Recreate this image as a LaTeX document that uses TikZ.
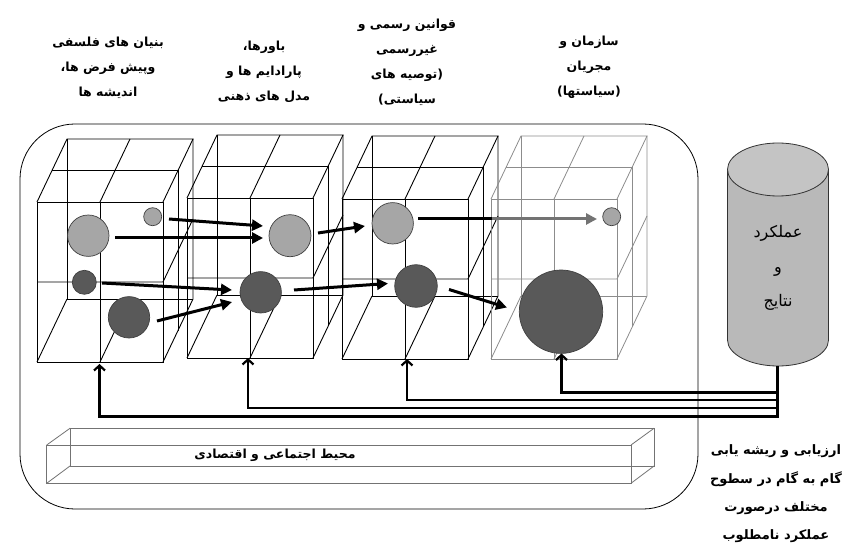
\documentclass[tikz,border=0pt]{standalone}
\usepackage{fontspec}
\usetikzlibrary{arrows.meta,calc}
\TeXXeTstate=1
\newfontfamily\fa[Script=Arabic]{DejaVu Sans}
\newcommand{\rtxt}[1]{\beginR#1\endR}
\definecolor{lightball}{HTML}{A6A6A6}
\definecolor{darkball}{HTML}{595959}
\definecolor{cylbody}{HTML}{B9B9B9}
\definecolor{cyltop}{HTML}{C4C4C4}
\tikzset{
  cubeline/.style={line width=0.9pt, black},
  cubefaint/.style={line width=0.8pt, black!45},
  ball/.style={circle, draw=black!75, line width=0.7pt, inner sep=0pt},
  lball/.style={ball, fill=lightball},
  dball/.style={ball, fill=darkball},
  flow/.style={line width=3pt, -{Triangle[length=11pt,width=11pt]}},
  fb/.style={line width=2.2pt, -{Straight Barb[length=5pt,width=11pt]}},
  toplabel/.style={align=center, font=\fa\bfseries\fontsize{12.5}{25}\selectfont},
  wirecube/.pic={
    \draw (0,0) rectangle (126,160);
    \draw (0,0) -- (30,-63) -- (156,-63) -- (126,0);
    \draw (156,-63) -- (156,97) -- (126,160);
    \draw (15,-31.5) -- (141,-31.5) -- (141,128.5);
    \draw (63,0) -- (93,-63);
    \draw (63,0) -- (63,160);
    \draw (0,80) -- (126,80) -- (156,17);
    \draw (30,-63) -- (30,97) -- (156,97);
    \draw (0,160) -- (30,97);
    \draw (63,160) -- (93,97);
  }
}
\begin{document}
\begin{tikzpicture}[x=1pt,y=-1pt]
\useasboundingbox (0,0) rectangle (844,548);
\fill[white] (0,0) rectangle (844,548);

% outer frame
\node[draw, line width=0.8pt, rounded corners=55pt, minimum width=678pt, minimum height=385pt, inner sep=0pt] (frame) at (359,316.5) {};

% bottom bar (environment)
\begin{scope}[draw=black!55, line width=0.8pt]
  \draw (46.7,445) rectangle (631,483.3);
  \draw (70,428.3) rectangle (654,466);
  \draw (46.7,445) -- (70,428.3);
  \draw (631,445) -- (654,428.3);
  \draw (631,483.3) -- (654,466);
  \draw (46.7,483.3) -- (70,466);
\end{scope}
\node[font=\fa\bfseries\fontsize{12.5}{15}\selectfont] (env) at (275,455) {\rtxt{محیط اجتماعی و اقتصادی}};

% cubes
\pic[cubeline] at (37,202) {wirecube};
\pic[cubeline] at (187,198) {wirecube};
\pic[cubeline] at (342,199) {wirecube};
\pic[cubefaint] at (491,199) {wirecube};

% balls
\node[lball, minimum size=41.4pt] (L1) at (88.3,235.7) {};
\node[lball, minimum size=18pt] (S1) at (152.7,216.7) {};
\node[dball, minimum size=24pt] (D1) at (84.3,282.3) {};
\node[dball, minimum size=41.4pt] (B1) at (129,317.3) {};
\node[lball, minimum size=42pt] (L2) at (290,235.7) {};
\node[dball, minimum size=41.4pt] (D2) at (260.7,292.3) {};
\node[lball, minimum size=41.4pt] (L3) at (392.7,223.3) {};
\node[dball, minimum size=42.6pt] (D3) at (416,286) {};
\node[lball, minimum size=18pt] (L4) at (611.7,216.7) {};
\node[dball, minimum size=83.4pt] (D4) at (561,311.7) {};

% flow arrows
\coordinate (a1s) at (169,219);   \coordinate (a1e) at (263,226);
\coordinate (a2s) at (115,238);   \coordinate (a2e) at (263,238);
\coordinate (a3s) at (102,283);   \coordinate (a3e) at (232,290);
\coordinate (a4s) at (157,321);   \coordinate (a4e) at (232,302);
\coordinate (a5s) at (318,233);   \coordinate (a5e) at (365,226);
\coordinate (a6s) at (294,290);   \coordinate (a6e) at (388,283.5);
\coordinate (a7s) at (418,219);   \coordinate (a7m) at (492,219);  \coordinate (a7e) at (597,219);
\coordinate (a8s) at (449,289.5); \coordinate (a8e) at (507,307.5);
\draw[flow] (a1s) -- (a1e);
\draw[flow] (a2s) -- (a2e);
\draw[flow] (a3s) -- (a3e);
\draw[flow] (a4s) -- (a4e);
\draw[flow] (a5s) -- (a5e);
\draw[flow] (a6s) -- (a6e);
\draw[line width=3pt] (a7s) -- (a7m);
\draw[flow, black!55] (a7m) -- (a7e);
\draw[flow] (a8s) -- (a8e);

% cylinder
\path[fill=cylbody, draw=black!80, line width=0.8pt]
  (727.5,169.5) -- (727.5,340) arc[start angle=180, end angle=0, x radius=50.5, y radius=26] -- (828.5,169.5) -- cycle;
\draw[fill=cyltop, draw=black!80, line width=0.8pt] (778,169.5) ellipse[x radius=50.5, y radius=26.5];
\node[align=center, font=\fa\fontsize{16}{34.5}\selectfont] (cyl) at (778,268) {\rtxt{عملکرد}\\\rtxt{و}\\\rtxt{نتایج}};
\coordinate (cylbot) at (777.5,366);

% feedback lines
\coordinate (k1) at (99.5,416.5);  \coordinate (t1) at (99.5,364);
\coordinate (k2) at (248,408.3);   \coordinate (t2) at (248,358);
\coordinate (k3) at (407,400.2);   \coordinate (t3) at (407,359);
\coordinate (k4) at (561.5,392.5); \coordinate (t4) at (561.5,353.5);
\draw[fb] (cylbot) |- (k1) -- (t1);
\draw[fb] (cylbot) |- (k2) -- (t2);
\draw[fb] (cylbot) |- (k3) -- (t3);
\draw[fb] (cylbot) |- (k4) -- (t4);

% top labels
\node[toplabel] (lab1) at (108,67.5) {\rtxt{بنیان های فلسفی}\\\rtxt{وپیش فرض ها،}\\\rtxt{اندیشه ها}};
\node[toplabel] (lab2) at (264,71.5) {\rtxt{باورها،}\\\rtxt{پارادایم ها و}\\\rtxt{مدل های ذهنی}};
\node[toplabel] (lab3) at (407,62) {\rtxt{قوانین رسمی و}\\\rtxt{غیررسمی}\\\rtxt{(توصیه های}\\\rtxt{سیاستی)}};
\node[toplabel] (lab4) at (589,67.5) {\rtxt{سازمان و}\\\rtxt{مجریان}\\\rtxt{(سیاستها)}};

% bottom-right note
\node[align=center, font=\fa\bfseries\fontsize{13}{28.3}\selectfont] (note) at (776,494) {\rtxt{ارزیابی و ریشه یابی}\\\rtxt{گام به گام در سطوح}\\\rtxt{مختلف درصورت}\\\rtxt{عملکرد نامطلوب}};
\end{tikzpicture}
\end{document}
